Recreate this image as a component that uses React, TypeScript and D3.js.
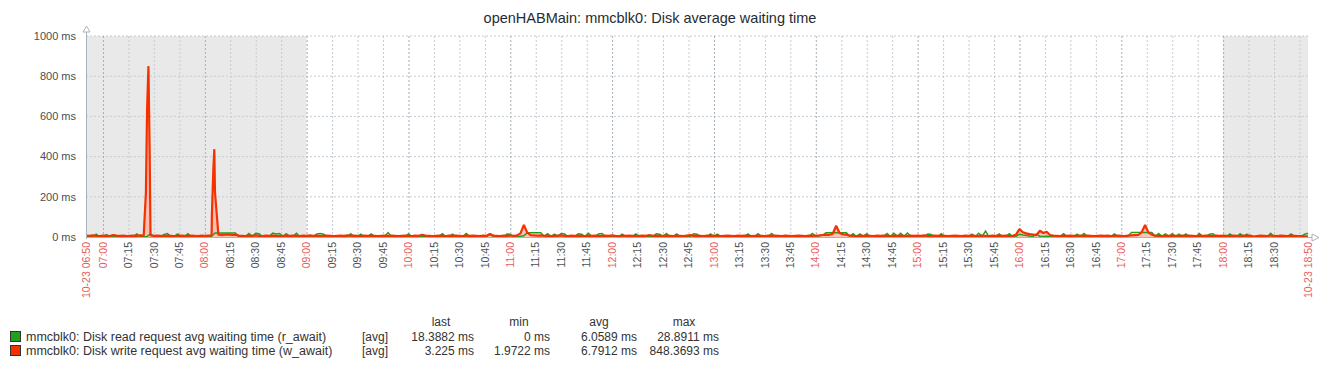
import React from "react";
import * as d3 from "d3";

const title = "openHABMain: mmcblk0: Disk average waiting time";

// samples every 2 minutes starting 10-23 06:50
const stepMin = 2;

const readAwait = [
  2, 3, 2, 14, 2, 1, 12, 3, 2, 2, 1, 3, 2, 2, 3, 15, 2, 1, 2, 16, 3, 2, 2, 13, 17, 2, 3, 15, 2, 1,
  16, 2, 3, 2, 1, 2, 3, 4, 20, 20, 20, 20, 20, 20, 20, 3, 2, 3, 17, 3, 18, 16, 2, 3, 2, 19, 15, 17, 2, 16,
  2, 3, 18, 2, 1, 2, 3, 2, 15, 17, 14, 2, 3, 2, 1, 2, 3, 2, 16, 2, 3, 14, 2, 2, 15, 3, 2, 1, 2, 22,
  2, 3, 2, 1, 2, 15, 3, 2, 1, 2, 3, 2, 1, 2, 3, 16, 2, 3, 14, 2, 1, 2, 17, 3, 2, 1, 2, 3, 2, 12,
  2, 3, 2, 1, 15, 13, 2, 3, 4, 6, 21, 21, 21, 21, 21, 3, 16, 2, 14, 3, 17, 15, 2, 3, 2, 16, 14, 2, 18, 3,
  2, 15, 17, 3, 2, 1, 2, 3, 14, 2, 1, 3, 15, 2, 2, 1, 3, 2, 16, 14, 2, 17, 3, 2, 15, 2, 1, 3, 2, 16,
  14, 2, 3, 2, 15, 2, 14, 3, 2, 1, 2, 3, 2, 1, 2, 15, 3, 2, 16, 2, 1, 3, 17, 2, 1, 2, 3, 2, 1, 2,
  3, 2, 1, 3, 18, 3, 6, 8, 21, 21, 21, 21, 21, 21, 21, 4, 16, 2, 15, 3, 16, 2, 3, 2, 1, 3, 17, 2, 19, 3,
  18, 2, 20, 3, 2, 1, 2, 3, 15, 13, 2, 3, 16, 2, 1, 2, 3, 2, 1, 2, 3, 14, 2, 19, 3, 28.9, 2, 1, 3, 15,
  2, 3, 16, 2, 4, 14, 10, 8, 5, 3, 15, 3, 2, 4, 3, 2, 1, 3, 16, 2, 1, 3, 14, 2, 17, 3, 2, 1, 2, 3,
  2, 1, 3, 15, 2, 1, 3, 5, 22, 22, 22, 22, 22, 22, 22, 3, 17, 3, 15, 2, 16, 3, 14, 2, 15, 3, 2, 1, 17, 2,
  3, 14, 16, 2, 1, 3, 2, 15, 3, 2, 16, 3, 14, 2, 1, 2, 3, 2, 1, 18, 2, 3, 2, 1, 2, 15, 3, 2, 3, 14,
  18.39,
];

const writeAwait = [
  7, 6, 8, 6, 5, 7, 6, 5, 10, 7, 6, 7, 5, 6, 7, 6, 8, 7, 640, 8, 6, 7, 6, 5, 7, 6, 5, 6, 7, 6,
  6, 7, 6, 5, 7, 6, 7, 8, 224, 12, 11, 12, 13, 11, 12, 7, 6, 5, 7, 6, 8, 6, 5, 7, 6, 7, 6, 5, 6, 7,
  6, 7, 6, 5, 7, 6, 8, 6, 7, 5, 6, 7, 6, 5, 6, 7, 6, 8, 6, 7, 6, 5, 7, 6, 7, 6, 5, 6, 7, 6,
  7, 6, 5, 6, 7, 6, 5, 7, 6, 11, 7, 6, 5, 6, 7, 6, 5, 7, 6, 7, 6, 5, 7, 6, 7, 6, 5, 7, 6, 15,
  7, 6, 5, 7, 6, 7, 6, 8, 18, 60, 22, 9, 8, 7, 8, 6, 7, 5, 6, 7, 8, 6, 5, 7, 6, 7, 6, 5, 7, 6,
  7, 6, 5, 7, 6, 8, 6, 5, 7, 6, 7, 6, 5, 6, 7, 6, 10, 6, 7, 5, 6, 7, 6, 5, 7, 6, 5, 7, 9, 6,
  7, 6, 5, 7, 6, 7, 6, 5, 6, 7, 6, 5, 7, 6, 7, 6, 5, 6, 7, 6, 5, 7, 6, 7, 6, 5, 7, 6, 5, 6,
  7, 6, 5, 7, 6, 7, 8, 10, 12, 11, 16, 56, 20, 13, 12, 7, 6, 5, 7, 6, 7, 6, 5, 7, 6, 7, 6, 5, 7, 6,
  7, 6, 5, 7, 6, 7, 6, 8, 6, 5, 7, 6, 7, 6, 5, 6, 7, 6, 5, 7, 6, 7, 6, 5, 7, 6, 5, 7, 6, 7,
  6, 7, 5, 6, 12, 40, 24, 18, 14, 12, 9, 31, 20, 26, 10, 7, 6, 5, 7, 6, 7, 6, 5, 7, 6, 7, 6, 5, 6, 7,
  6, 7, 5, 6, 7, 6, 5, 7, 8, 9, 10, 24, 60, 22, 12, 7, 6, 5, 7, 6, 7, 6, 5, 7, 6, 7, 6, 5, 7, 6,
  7, 6, 5, 7, 6, 7, 6, 5, 7, 6, 5, 7, 6, 7, 2, 5, 7, 6, 5, 7, 6, 5, 7, 6, 5, 7, 6, 5, 4, 3,
  3.225,
];

// extra samples inside the two big write spikes: [minutes after 06:50, ms]
const writeSpikes: [number, number][] = [
  [35.3, 220], [36.8, 850], [37.5, 430],
  [74.2, 114], [75.0, 328], [75.6, 437],
];

const yTicks = [0, 200, 400, 600, 800, 1000];

const xTickLabels = [
  "07:00", "07:15", "07:30", "07:45", "08:00", "08:15", "08:30", "08:45",
  "09:00", "09:15", "09:30", "09:45", "10:00", "10:15", "10:30", "10:45",
  "11:00", "11:15", "11:30", "11:45", "12:00", "12:15", "12:30", "12:45",
  "13:00", "13:15", "13:30", "13:45", "14:00", "14:15", "14:30", "14:45",
  "15:00", "15:15", "15:30", "15:45", "16:00", "16:15", "16:30", "16:45",
  "17:00", "17:15", "17:30", "17:45", "18:00", "18:15", "18:30",
];
const gridOnlyTicks = ["18:45"];
const edgeLabels = ["10-23 06:50", "10-23 18:50"];
const startTime = "06:50";
const endTime = "18:50";
const workStart = "09:00";
const workEnd = "18:00";

const legendNames = [
  "mmcblk0: Disk read request avg waiting time (r_await)",
  "mmcblk0: Disk write request avg waiting time (w_await)",
];
const legendColors = ["#1fa01f", "#f63100"];
const legendLast = ["18.3882 ms", "3.225 ms"];
const legendMin = ["0 ms", "1.9722 ms"];
const legendAvg = ["6.0589 ms", "6.7912 ms"];
const legendMax = ["28.8911 ms", "848.3693 ms"];

const toMin = (t: string) => {
  const [h, m] = t.split(":").map(Number);
  return h * 60 + m;
};
const off = (t: string) => toMin(t) - toMin(startTime);

const FONT = "'Liberation Sans', Arial, sans-serif";

export default function App() {
  const left = 86, right = 1308, top = 36, bottom = 237;
  const x = d3.scaleLinear().domain([0, off(endTime)]).range([left, right]);
  const y = d3.scaleLinear().domain([0, 1000]).range([bottom, top]);

  const readPts: [number, number][] = readAwait.map((v, i) => [i * stepMin, v]);
  const writePts: [number, number][] = writeAwait
    .map((v, i) => [i * stepMin, v] as [number, number])
    .concat(writeSpikes)
    .sort((a, b) => a[0] - b[0]);

  const line = d3.line<[number, number]>().x(d => x(d[0])).y(d => y(d[1]));
  const area = d3.area<[number, number]>().x(d => x(d[0])).y0(y(0)).y1(d => y(d[1]));

  const tickOffsets = xTickLabels.concat(gridOnlyTicks).map(off);

  return (
    <svg width={1338} height={369} style={{ position: "absolute", left: 0, top: 0, background: "#fff" }}>
      <text x={650} y={23} textAnchor="middle" fontFamily={FONT} fontSize={14.5} fill="#1f2c33">{title}</text>

      {/* non-working time */}
      <rect x={x(0)} y={top} width={x(off(workStart)) - x(0)} height={bottom - top} fill="#e9e9e9" />
      <rect x={x(off(workEnd))} y={top} width={x(off(endTime)) - x(off(workEnd))} height={bottom - top} fill="#e9e9e9" />

      {/* grid */}
      {yTicks.filter(t => t > 0).map(t => (
        <line key={"h" + t} x1={left} x2={right} y1={y(t)} y2={y(t)} stroke="#c4ccd2" strokeDasharray="2,2" />
      ))}
      {tickOffsets.map((o, i) => (
        <line key={"v" + i} x1={x(o) + 0.5} x2={x(o) + 0.5} y1={top} y2={bottom}
          stroke={o % 60 === 10 ? "#a3afb7" : "#c4ccd2"} strokeDasharray="2,2" />
      ))}

      {/* series */}
      <path d={area(writePts) || ""} fill="#fbb4a4" opacity={0.8} />
      <path d={line(readPts) || ""} fill="none" stroke={legendColors[0]} strokeWidth={1.5} />
      <path d={line(writePts) || ""} fill="none" stroke={legendColors[1]} strokeWidth={2.2} strokeLinejoin="bevel" />

      {/* axes */}
      <line x1={left + 0.5} x2={left + 0.5} y1={31} y2={bottom + 2} stroke="#a9b3ba" />
      <path d={`M${left + 0.5},26 L${left + 4},32 L${left - 3},32 Z`} fill="#fff" stroke="#a9b3ba" />
      <line x1={left} x2={right + 4} y1={bottom + 0.5} y2={bottom + 0.5} stroke="#a9b3ba" />
      <path d={`M${right + 11},${bottom + 0.5} L${right + 4},${bottom - 3} L${right + 4},${bottom + 4} Z`} fill="#fff" stroke="#a9b3ba" />

      {yTicks.map(t => (
        <text key={"yt" + t} x={76} y={y(t)} dy="0.35em" textAnchor="end" fontFamily={FONT} fontSize={11} fill="#4a4f52">
          {t} ms
        </text>
      ))}

      {xTickLabels.map(l => {
        const xp = x(off(l));
        const hour = l.endsWith(":00");
        return (
          <text key={"xt" + l} transform={`translate(${xp},${bottom + 5}) rotate(-90)`} dy="0.35em" textAnchor="end"
            fontFamily={FONT} fontSize={10.5} fill={hour ? "#e85b5b" : "#4a4f52"}>
            {l}
          </text>
        );
      })}
      {edgeLabels.map((l, i) => (
        <text key={"edge" + i} transform={`translate(${x(i === 0 ? 0 : off(endTime))},${bottom + 5}) rotate(-90)`} dy="0.35em"
          textAnchor="end" fontFamily={FONT} fontSize={10.5} fill="#e85b5b">
          {l}
        </text>
      ))}

      {/* legend */}
      <g fontFamily={FONT} fontSize={12} fill="#333">
        <text x={441} y={326} textAnchor="middle">last</text>
        <text x={519} y={326} textAnchor="middle">min</text>
        <text x={599} y={326} textAnchor="middle">avg</text>
        <text x={684} y={326} textAnchor="middle">max</text>
        {legendNames.map((n, i) => {
          const by = 341 + i * 14;
          return (
            <g key={"lg" + i}>
              <rect x={10.5} y={by - 9.5} width={10} height={10} fill={legendColors[i]} stroke="#333" />
              <text x={26} y={by} fontSize={12.5}>{n}</text>
              <text x={362} y={by}>[avg]</text>
              <text x={474} y={by} textAnchor="end">{legendLast[i]}</text>
              <text x={550} y={by} textAnchor="end">{legendMin[i]}</text>
              <text x={637} y={by} textAnchor="end">{legendAvg[i]}</text>
              <text x={719} y={by} textAnchor="end">{legendMax[i]}</text>
            </g>
          );
        })}
      </g>
    </svg>
  );
}
